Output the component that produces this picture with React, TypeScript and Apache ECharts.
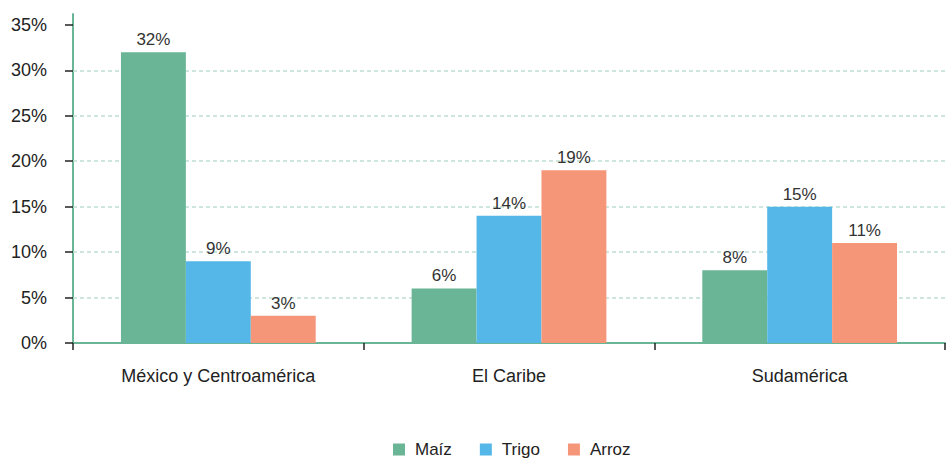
import React, { useEffect, useRef } from "react";
import * as echarts from "echarts";

const categories = ["México y Centroamérica", "El Caribe", "Sudamérica"];
const seriesNames = ["Maíz", "Trigo", "Arroz"];
const maiz = [32, 6, 8];
const trigo = [9, 14, 15];
const arroz = [3, 19, 11];
const yTicks = [0, 5, 10, 15, 20, 25, 30, 35];
const gridValues = [5, 10, 15, 20, 25, 30];
const colors = ["#6bb597", "#54b7e8", "#f59679"];

const FONT = "'Liberation Sans', Arial, sans-serif";

export default function App() {
  const ref = useRef<HTMLDivElement>(null);
  useEffect(() => {
    if (!ref.current) return;
    const chart = echarts.init(ref.current, undefined, { renderer: "svg" });
    const values = [maiz, trigo, arroz];
    const series: any[] = seriesNames.map((name, i) => ({
      name,
      type: "bar",
      data: values[i],
      barGap: "0%",
      barCategoryGap: "33%",
      itemStyle: { color: colors[i] },
      label: {
        show: true,
        position: "top",
        distance: 4,
        formatter: "{c}%",
        color: "#333",
        fontSize: 17,
        fontFamily: FONT,
      },
    }));
    series[0].markLine = {
      silent: true,
      z: 1,
      symbol: ["none", "none"],
      label: { show: false },
      lineStyle: { type: [4, 3], color: "#bfe0d2", width: 1.5 },
      data: gridValues.map((v) => ({ yAxis: v })),
      animation: false,
    };
    chart.setOption({
      animation: false,
      backgroundColor: "#fff",
      grid: { left: 73, right: 5, top: 14, bottom: 117, containLabel: false },
      legend: {
        data: seriesNames,
        left: 393,
        top: 441,
        padding: 0,
        itemWidth: 12,
        itemHeight: 12,
        itemGap: 28,
        icon: "rect",
        textStyle: { fontSize: 17, fontFamily: FONT, color: "#222", padding: [0, 0, 0, 5] },
      },
      xAxis: {
        type: "category",
        data: categories,
        axisLine: { lineStyle: { color: "#6bb597", width: 2 } },
        axisTick: { show: true, length: 7, lineStyle: { color: "#222", width: 1.5 } },
        axisLabel: { margin: 24, fontSize: 18, fontFamily: FONT, color: "#222" },
      },
      yAxis: {
        type: "value",
        min: 0,
        max: 36.2,
        interval: 5,
        axisLine: { show: true, lineStyle: { color: "#6bb597", width: 2 } },
        axisTick: { show: true, length: 8, customValues: yTicks, lineStyle: { color: "#222", width: 1.5 } },
        axisLabel: {
          margin: 26,
          customValues: yTicks,
          fontSize: 18,
          fontFamily: FONT,
          color: "#222",
          formatter: (v: number) => `${v}%`,
        },
        splitLine: { show: false },
      },
      series,
    });
    return () => chart.dispose();
  }, []);
  return (
    <div
      ref={ref}
      style={{ position: "fixed", left: 0, top: 0, width: 950, height: 460 }}
    />
  );
}
